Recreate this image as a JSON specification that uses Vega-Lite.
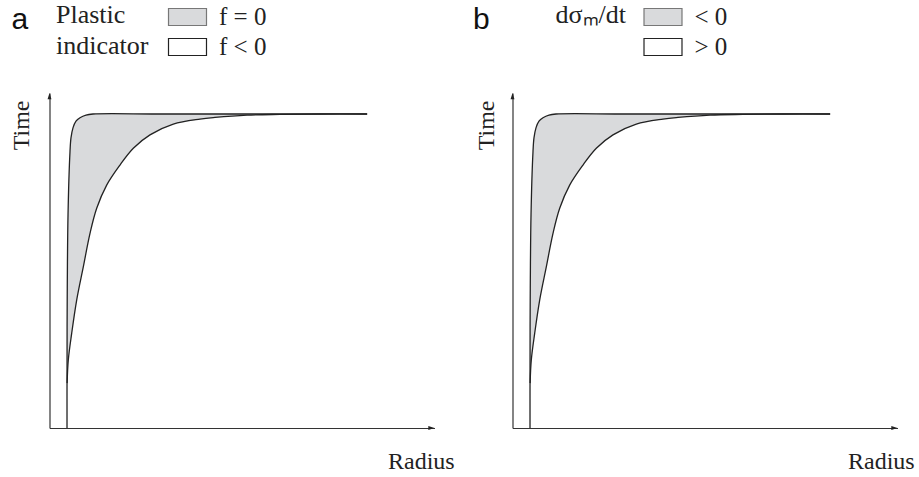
{
  "$schema": "https://vega.github.io/schema/vega-lite/v6.json",
  "background": "white",
  "autosize": {"type": "none"},
  "padding": {"left": 49.5, "top": 93, "right": 869.5, "bottom": 384},
  "config": {
    "view": {"stroke": null},
    "font": "Liberation Serif",
    "axis": {
      "domainColor": "#333333",
      "domainWidth": 1.2,
      "ticks": false,
      "labels": false,
      "grid": false,
      "titleFont": "Liberation Serif",
      "titleFontSize": 24,
      "titleFontWeight": "normal",
      "titleColor": "#222222"
    },
    "legend": {
      "orient": "none",
      "direction": "vertical",
      "padding": 0,
      "titleOrient": "left",
      "titleAnchor": "start",
      "titleAlign": "left",
      "titleFont": "Liberation Serif",
      "titleFontSize": 26,
      "titleFontWeight": "normal",
      "titleColor": "#222222",
      "titleBaseline": "top",
      "titleLineHeight": 31,
      "symbolType": "M-1.31,-0.586H1.31V0.586H-1.31Z",
      "symbolSize": 841,
      "symbolStrokeColor": "#333333",
      "symbolStrokeWidth": 1.2,
      "labelFont": "Liberation Serif",
      "labelFontSize": 25,
      "labelColor": "#222222",
      "labelOffset": 16,
      "rowPadding": 1
    },
    "title": {
      "font": "Liberation Sans",
      "fontSize": 30,
      "fontWeight": "normal",
      "color": "#111111",
      "anchor": "start",
      "frame": "group"
    }
  },
  "datasets": {
    "curves": [
      {"curve": "left", "i": 0, "r": 4.55, "t": 0},
      {"curve": "left", "i": 1, "r": 4.55, "t": 13.4},
      {"curve": "left", "i": 2, "r": 4.6, "t": 38.2},
      {"curve": "left", "i": 3, "r": 4.81, "t": 63.6},
      {"curve": "left", "i": 4, "r": 5.32, "t": 82.4},
      {"curve": "left", "i": 5, "r": 5.58, "t": 86.6},
      {"curve": "left", "i": 6, "r": 6.1, "t": 89.6},
      {"curve": "left", "i": 7, "r": 6.88, "t": 91.6},
      {"curve": "left", "i": 8, "r": 7.92, "t": 92.6},
      {"curve": "left", "i": 9, "r": 9.48, "t": 93.4},
      {"curve": "left", "i": 10, "r": 11.3, "t": 93.73},
      {"curve": "left", "i": 11, "r": 30, "t": 93.73},
      {"curve": "left", "i": 12, "r": 82.5, "t": 93.73},
      {"curve": "right", "i": 0, "r": 4.58, "t": 13.4},
      {"curve": "right", "i": 1, "r": 4.88, "t": 20.3},
      {"curve": "right", "i": 2, "r": 5.77, "t": 28.3},
      {"curve": "right", "i": 3, "r": 7.06, "t": 38.2},
      {"curve": "right", "i": 4, "r": 8.78, "t": 48.1},
      {"curve": "right", "i": 5, "r": 10.52, "t": 58.1},
      {"curve": "right", "i": 6, "r": 12.26, "t": 65.6},
      {"curve": "right", "i": 7, "r": 14.85, "t": 72.5},
      {"curve": "right", "i": 8, "r": 18.31, "t": 78.5},
      {"curve": "right", "i": 9, "r": 21.77, "t": 83.5},
      {"curve": "right", "i": 10, "r": 26.1, "t": 87.5},
      {"curve": "right", "i": 11, "r": 32.16, "t": 90.7},
      {"curve": "right", "i": 12, "r": 39.09, "t": 92.2},
      {"curve": "right", "i": 13, "r": 42.99, "t": 92.7},
      {"curve": "right", "i": 14, "r": 51.3, "t": 93.4},
      {"curve": "right", "i": 15, "r": 59.87, "t": 93.62},
      {"curve": "right", "i": 16, "r": 70.26, "t": 93.73},
      {"curve": "right", "i": 17, "r": 82.5, "t": 93.73}
    ],
    "areaA": [
      {"region": "f = 0", "t": 13.4, "r": 4.58, "r2": 4.58},
      {"region": "f = 0", "t": 20.3, "r": 4.58, "r2": 4.88},
      {"region": "f = 0", "t": 28.3, "r": 4.59, "r2": 5.77},
      {"region": "f = 0", "t": 38.2, "r": 4.6, "r2": 7.06},
      {"region": "f = 0", "t": 48.1, "r": 4.68, "r2": 8.78},
      {"region": "f = 0", "t": 58.1, "r": 4.76, "r2": 10.52},
      {"region": "f = 0", "t": 65.6, "r": 4.84, "r2": 12.26},
      {"region": "f = 0", "t": 72.5, "r": 4.98, "r2": 14.85},
      {"region": "f = 0", "t": 78.5, "r": 5.18, "r2": 18.31},
      {"region": "f = 0", "t": 83.5, "r": 5.38, "r2": 21.77},
      {"region": "f = 0", "t": 87.5, "r": 5.75, "r2": 26.1},
      {"region": "f = 0", "t": 89.6, "r": 6.1, "r2": 30.1},
      {"region": "f = 0", "t": 90.7, "r": 6.4, "r2": 32.16},
      {"region": "f = 0", "t": 91.6, "r": 6.88, "r2": 36.3},
      {"region": "f = 0", "t": 92.2, "r": 7.5, "r2": 39.09},
      {"region": "f = 0", "t": 92.7, "r": 8.1, "r2": 42.99},
      {"region": "f = 0", "t": 93.4, "r": 9.48, "r2": 51.3},
      {"region": "f = 0", "t": 93.62, "r": 10.5, "r2": 59.87},
      {"region": "f = 0", "t": 93.73, "r": 11.3, "r2": 70.26}
    ],
    "areaB": [
      {"region": "< 0", "t": 13.4, "r": 4.58, "r2": 4.58},
      {"region": "< 0", "t": 20.3, "r": 4.58, "r2": 4.88},
      {"region": "< 0", "t": 28.3, "r": 4.59, "r2": 5.77},
      {"region": "< 0", "t": 38.2, "r": 4.6, "r2": 7.06},
      {"region": "< 0", "t": 48.1, "r": 4.68, "r2": 8.78},
      {"region": "< 0", "t": 58.1, "r": 4.76, "r2": 10.52},
      {"region": "< 0", "t": 65.6, "r": 4.84, "r2": 12.26},
      {"region": "< 0", "t": 72.5, "r": 4.98, "r2": 14.85},
      {"region": "< 0", "t": 78.5, "r": 5.18, "r2": 18.31},
      {"region": "< 0", "t": 83.5, "r": 5.38, "r2": 21.77},
      {"region": "< 0", "t": 87.5, "r": 5.75, "r2": 26.1},
      {"region": "< 0", "t": 89.6, "r": 6.1, "r2": 30.1},
      {"region": "< 0", "t": 90.7, "r": 6.4, "r2": 32.16},
      {"region": "< 0", "t": 91.6, "r": 6.88, "r2": 36.3},
      {"region": "< 0", "t": 92.2, "r": 7.5, "r2": 39.09},
      {"region": "< 0", "t": 92.7, "r": 8.1, "r2": 42.99},
      {"region": "< 0", "t": 93.4, "r": 9.48, "r2": 51.3},
      {"region": "< 0", "t": 93.62, "r": 10.5, "r2": 59.87},
      {"region": "< 0", "t": 93.73, "r": 11.3, "r2": 70.26}
    ],
    "arrows": [
      {"dir": "right", "r": 100, "t": 0},
      {"dir": "up", "r": 0, "t": 100}
    ]
  },
  "bounds": "flush",
  "spacing": 78,
  "resolve": {"scale": {"fill": "independent"}, "legend": {"fill": "independent"}},
  "hconcat": [
    {
      "width": 385,
      "height": 335,
      "title": {"text": "a", "dx": -38, "dy": 37},
      "layer": [
        {
          "data": {"name": "areaA"},
          "mark": {"type": "area", "orient": "horizontal", "interpolate": "catmull-rom"},
          "encoding": {
            "y": {"field": "t", "type": "quantitative", "scale": {"domain": [0, 100], "nice": false, "zero": false},
                  "axis": {"title": "Time", "titleAngle": -90, "titleAlign": "right", "titleBaseline": "alphabetic", "titleX": -21, "titleY": 7}},
            "x": {"field": "r", "type": "quantitative", "scale": {"domain": [0, 100], "nice": false, "zero": false},
                  "axis": {"title": "Radius", "titleAngle": 0, "titleAlign": "left", "titleBaseline": "alphabetic", "titleX": 338, "titleY": 40}},
            "x2": {"field": "r2"},
            "fill": {"field": "region", "type": "nominal",
                     "scale": {"domain": ["f = 0", "f < 0"], "range": ["#d9dadc", "#ffffff"]},
                     "legend": {"title": ["Plastic", "indicator"], "legendX": 6.5, "legendY": -91.5, "titlePadding": 23,
                                "encode": {"symbols": {"update": {"stroke": {"signal": "datum.value === 'f = 0' ? '#777777' : '#222222'"}}}}}}
          }
        },
        {
          "data": {"name": "curves"},
          "mark": {"type": "line", "interpolate": "catmull-rom", "color": "#222222", "strokeWidth": 1.3},
          "encoding": {
            "x": {"field": "r", "type": "quantitative"},
            "y": {"field": "t", "type": "quantitative"},
            "detail": {"field": "curve", "type": "nominal"},
            "order": {"field": "i", "type": "quantitative"}
          }
        },
        {
          "data": {"name": "arrows"},
          "mark": {"type": "point", "filled": true, "color": "#222222", "opacity": 1, "size": 60, "strokeWidth": 0},
          "encoding": {
            "x": {"field": "r", "type": "quantitative"},
            "y": {"field": "t", "type": "quantitative"},
            "shape": {"field": "dir", "type": "nominal",
                      "scale": {"domain": ["up", "right"], "range": ["M0,0L-0.5,1.6L0.5,1.6Z", "M0,0L-1.6,-0.5L-1.6,0.5Z"]},
                      "legend": null}
          }
        }
      ]
    },
    {
      "width": 385,
      "height": 335,
      "title": {"text": "b", "dx": -39.5, "dy": 37},
      "layer": [
        {
          "data": {"name": "areaB"},
          "mark": {"type": "area", "orient": "horizontal", "interpolate": "catmull-rom"},
          "encoding": {
            "y": {"field": "t", "type": "quantitative", "scale": {"domain": [0, 100], "nice": false, "zero": false},
                  "axis": {"title": "Time", "titleAngle": -90, "titleAlign": "right", "titleBaseline": "alphabetic", "titleX": -19.5, "titleY": 7}},
            "x": {"field": "r", "type": "quantitative", "scale": {"domain": [0, 100], "nice": false, "zero": false},
                  "axis": {"title": "Radius", "titleAngle": 0, "titleAlign": "left", "titleBaseline": "alphabetic", "titleX": 335, "titleY": 40}},
            "x2": {"field": "r2"},
            "fill": {"field": "region", "type": "nominal",
                     "scale": {"domain": ["< 0", "> 0"], "range": ["#d9dadc", "#ffffff"]},
                     "legend": {"title": "dσₘ/dt", "legendX": 43, "legendY": -91.5, "titlePadding": 21,
                                "encode": {"symbols": {"update": {"stroke": {"signal": "datum.value === '< 0' ? '#777777' : '#222222'"}}}}}}
          }
        },
        {
          "data": {"name": "curves"},
          "mark": {"type": "line", "interpolate": "catmull-rom", "color": "#222222", "strokeWidth": 1.3},
          "encoding": {
            "x": {"field": "r", "type": "quantitative"},
            "y": {"field": "t", "type": "quantitative"},
            "detail": {"field": "curve", "type": "nominal"},
            "order": {"field": "i", "type": "quantitative"}
          }
        },
        {
          "data": {"name": "arrows"},
          "mark": {"type": "point", "filled": true, "color": "#222222", "opacity": 1, "size": 60, "strokeWidth": 0},
          "encoding": {
            "x": {"field": "r", "type": "quantitative"},
            "y": {"field": "t", "type": "quantitative"},
            "shape": {"field": "dir", "type": "nominal",
                      "scale": {"domain": ["up", "right"], "range": ["M0,0L-0.5,1.6L0.5,1.6Z", "M0,0L-1.6,-0.5L-1.6,0.5Z"]},
                      "legend": null}
          }
        }
      ]
    }
  ]
}
